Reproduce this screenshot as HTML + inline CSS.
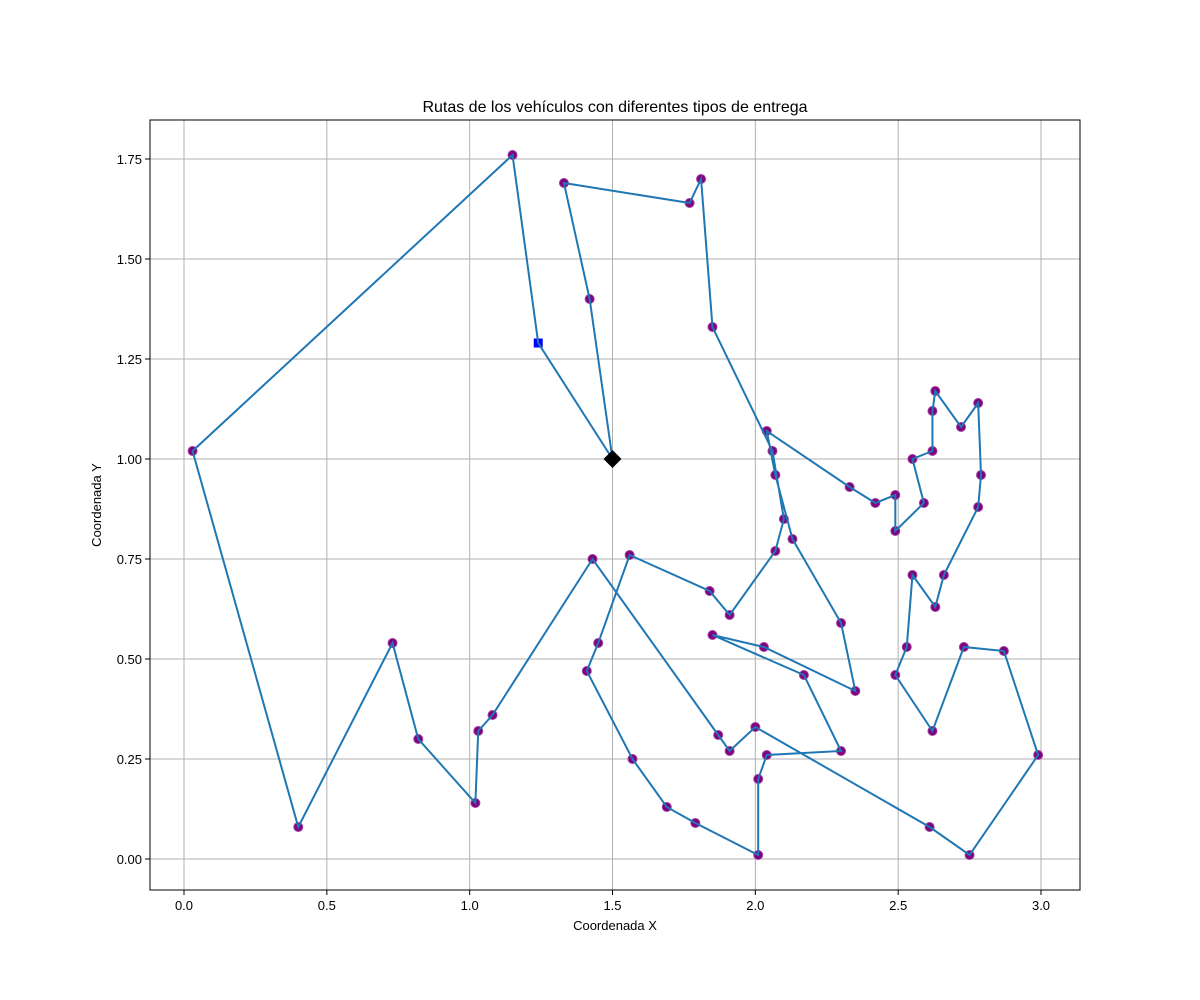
<!DOCTYPE html>
<html><head><meta charset="utf-8"><style>body{margin:0;background:#fff}svg{display:block;font-family:"Liberation Sans","DejaVu Sans",sans-serif}</style></head>
<body>
<svg id="chart" width="1200" height="1000"></svg>
<script>
const xTicks=[0,0.5,1.0,1.5,2.0,2.5,3.0];
const xTickLabels=["0.0","0.5","1.0","1.5","2.0","2.5","3.0"];
const yTicks=[0,0.25,0.5,0.75,1.0,1.25,1.5,1.75];
const yTickLabels=["0.00","0.25","0.50","0.75","1.00","1.25","1.50","1.75"];
const depot=[1.5,1.0];
const special=[1.24,1.29];
const routeX=[1.5,1.42,1.33,1.77,1.81,1.85,2.06,2.10,2.07,1.91,1.84,1.56,1.45,1.41,1.57,1.69,1.79,2.01,2.01,2.04,2.30,2.17,1.85,2.03,2.35,2.30,2.13,2.07,2.04,2.33,2.42,2.49,2.49,2.59,2.55,2.62,2.62,2.63,2.72,2.78,2.79,2.78,2.66,2.63,2.55,2.53,2.49,2.62,2.73,2.87,2.99,2.75,2.61,2.00,1.91,1.87,1.43,1.08,1.03,1.02,0.82,0.73,0.40,0.03,1.15,1.24,1.5];
const routeY=[1.0,1.40,1.69,1.64,1.70,1.33,1.02,0.85,0.77,0.61,0.67,0.76,0.54,0.47,0.25,0.13,0.09,0.01,0.20,0.26,0.27,0.46,0.56,0.53,0.42,0.59,0.80,0.96,1.07,0.93,0.89,0.91,0.82,0.89,1.00,1.02,1.12,1.17,1.08,1.14,0.96,0.88,0.71,0.63,0.71,0.53,0.46,0.32,0.53,0.52,0.26,0.01,0.08,0.33,0.27,0.31,0.75,0.36,0.32,0.14,0.30,0.54,0.08,1.02,1.76,1.29,1.0];
const L=150,R=1080,T=120,B=890;
const sx=v=>184+v*285.67, sy=v=>859-v*400;
const svg=document.getElementById('chart');const NS='http://www.w3.org/2000/svg';
function mk(t,a,p){const e=document.createElementNS(NS,t);for(const k in a)e.setAttribute(k,a[k]);(p||svg).appendChild(e);return e;}
xTicks.forEach((v,i)=>{
 const g=mk('line',{x1:sx(v),x2:sx(v),y1:T,y2:B,stroke:'#b0b0b0','stroke-width':1});
 
 
 mk('line',{x1:sx(v),x2:sx(v),y1:B,y2:B+5,stroke:'#000'});
 const t=mk('text',{x:sx(v),y:B+20,'text-anchor':'middle','font-size':13});t.textContent=xTickLabels[i];
 
 
});
yTicks.forEach((v,i)=>{
 const g=mk('line',{x1:L,x2:R,y1:sy(v),y2:sy(v),stroke:'#b0b0b0','stroke-width':1});
 
 
 mk('line',{x1:L-5,x2:L,y1:sy(v),y2:sy(v),stroke:'#000'});
 const t=mk('text',{x:L-8,y:sy(v)+5,'text-anchor':'end','font-size':13});t.textContent=yTickLabels[i];
 
 
});
for(let i=1;i<routeX.length-1;i++){
 if(routeX[i]===special[0]&&routeY[i]===special[1])continue;
 const c=mk('circle',{cx:sx(routeX[i]),cy:sy(routeY[i]),r:4.5,fill:'#800080',stroke:'#a040a0','stroke-width':1});
 
 
}
const sq=mk('rect',{x:sx(special[0])-4.5,y:sy(special[1])-4.5,width:9,height:9,fill:'#0000ff'});


const pts=routeX.map((x,i)=>sx(x)+','+sy(routeY[i])).join(' ');
const pl=mk('polyline',{points:pts,fill:'none',stroke:'#1f77b4','stroke-width':2});


const d=mk('polygon',{points:`${sx(depot[0])},${sy(depot[1])-9} ${sx(depot[0])+9},${sy(depot[1])} ${sx(depot[0])},${sy(depot[1])+9} ${sx(depot[0])-9},${sy(depot[1])}`,fill:'#000'});


const fr=mk('rect',{x:L,y:T,width:R-L,height:B-T,fill:'none',stroke:'#000','stroke-width':1});


const ti=mk('text',{x:(L+R)/2,y:112,'text-anchor':'middle','font-size':16});ti.textContent='Rutas de los vehículos con diferentes tipos de entrega';


const xl=mk('text',{x:(L+R)/2,y:930,'text-anchor':'middle','font-size':13});xl.textContent='Coordenada X';


const yl=mk('text',{x:101,y:505,'text-anchor':'middle','font-size':13,transform:'rotate(-90 101 505)'});yl.textContent='Coordenada Y';


</script>
</body></html>
